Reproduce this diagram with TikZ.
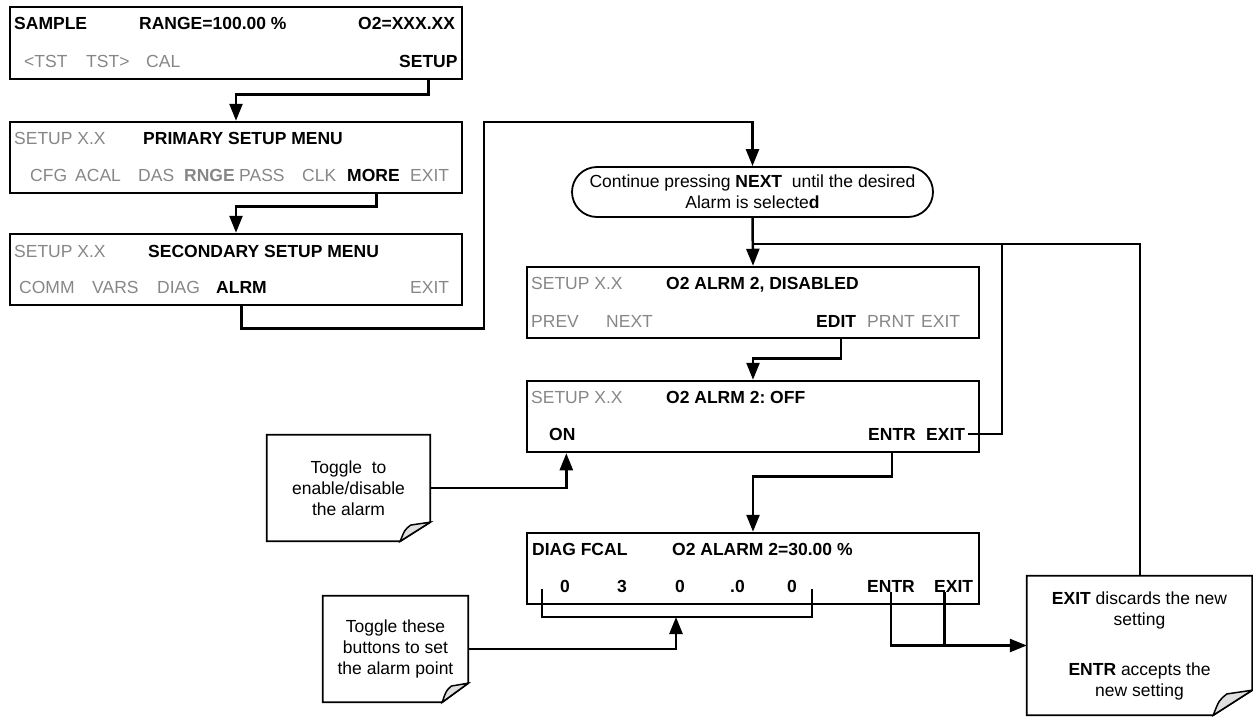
\documentclass[tikz,border=0pt]{standalone}
\usepackage{fontspec}
\setmainfont{Liberation Sans}
\frenchspacing
\usetikzlibrary{arrows.meta,shapes.misc,calc}
\definecolor{lcdGray}{RGB}{135,135,135}

\tikzset{
  lcd/.style={draw,line width=2.5pt,minimum width=452pt,minimum height=71pt,inner sep=0pt},
  key/.style={inner sep=0pt,anchor=base west,font=\fontsize{17.5}{20}\selectfont},
  keyb/.style={key,font=\fontsize{17.5}{20}\selectfont\bfseries},
  keyoff/.style={key,text=lcdGray},
  keyoffb/.style={keyb,text=lcdGray},
  conn/.style={line width=2.5pt},
  thinconn/.style={line width=2pt},
  arr/.style={conn,-{Triangle[length=17pt,width=13pt]}},
  hint/.style={align=center,font=\fontsize{17.5}{21}\selectfont,inner sep=0pt},
}

% sticky note outline with a curled corner
\newcommand{\notebox}[3]{%
  \draw[line width=1.8pt] (#1.north west) -- (#1.north east)
    -- ($(#1.south east)+(0,-#3)$) -- ($(#1.south east)+(-#2,0)$)
    -- (#1.south west) -- cycle;
  \filldraw[fill=gray!25,line width=1.5pt] ($(#1.south east)+(-#2,0)$)
    .. controls ($(#1.south east)+(-#2*0.85,-#3*0.6)$) ..
    ($(#1.south east)+(-#2*0.65,-#3*0.85)$) -- ($(#1.south east)+(0,-#3)$) -- cycle;
}

\begin{document}
\begin{tikzpicture}[x=1pt,y=-1pt]
  \useasboundingbox (0,0) rectangle (1253,717);

  % display windows
  \node[lcd,minimum height=72pt] (sample) at (236,43) {};
  \node[lcd] (prim) at (236,157.5) {};
  \node[lcd] (second) at (236,269.5) {};
  \node[lcd] (disabled) at (753,302.5) {};
  \node[lcd] (offbox) at (753,416.5) {};
  \node[lcd] (diag) at (753,568.5) {};

  % SAMPLE
  \node[keyb] (sampleT) at (14,30) {SAMPLE};
  \node[keyb] (rangeT) at (139,30) {RANGE=100.00 \%};
  \node[keyb] (otwoT) at (358,30) {O2=XXX.XX};
  \node[keyoff] (tstL) at (24,67) {<TST};
  \node[keyoff] (tstR) at (86,67) {TST>};
  \node[keyoff] (calS) at (146,67) {CAL};
  \node[keyb] (setupS) at (399,67) {SETUP};

  % primary setup
  \node[keyoff] (setupP) at (14,144) {SETUP X.X};
  \node[keyb] (titleP) at (143,144) {PRIMARY SETUP MENU};
  \node[keyoff] (cfgP) at (30,181) {CFG};
  \node[keyoff] (acalP) at (75,181) {ACAL};
  \node[keyoff] (dasP) at (138,181) {DAS};
  \node[keyoffb] (rngeP) at (184,181) {RNGE};
  \node[keyoff] (passP) at (239,181) {PASS};
  \node[keyoff] (clkP) at (302,181) {CLK};
  \node[keyb] (moreP) at (347,181) {MORE};
  \node[keyoff] (exitP) at (410,181) {EXIT};

  % secondary setup
  \node[keyoff] (setupS2) at (14,257) {SETUP X.X};
  \node[keyb] (titleS) at (148,257) {SECONDARY SETUP MENU};
  \node[keyoff] (commS) at (19,293) {COMM};
  \node[keyoff] (varsS) at (92,293) {VARS};
  \node[keyoff] (diagS) at (157,293) {DIAG};
  \node[keyb] (alrmS) at (216,293) {ALRM};
  \node[keyoff] (exitS) at (410,293) {EXIT};

  % alarm, disabled
  \node[keyoff] (setupD) at (531,289) {SETUP X.X};
  \node[keyb] (titleD) at (666,289) {O2 ALRM 2, DISABLED};
  \node[keyoff] (prevD) at (531,327) {PREV};
  \node[keyoff] (nextD) at (606,327) {NEXT};
  \node[keyb] (editD) at (816,327) {EDIT};
  \node[keyoff] (prntD) at (867,327) {PRNT};
  \node[keyoff] (exitD) at (921,327) {EXIT};

  % alarm, off
  \node[keyoff] (setupO) at (531,403) {SETUP X.X};
  \node[keyb] (titleO) at (666,403) {O2 ALRM 2: OFF};
  \node[keyb] (onO) at (549,440) {ON};
  \node[keyb] (entrO) at (868,440) {ENTR};
  \node[keyb] (exitO) at (926,440) {EXIT};

  % alarm value
  \node[keyb] (diagF) at (532,555) {DIAG FCAL};
  \node[keyb] (titleF) at (672,555) {O2 ALARM 2=30.00 \%};
  \node[keyb] (digA) at (560,592) {0};
  \node[keyb] (digB) at (617,592) {3};
  \node[keyb] (digC) at (675,592) {0};
  \node[keyb] (digD) at (730,592) {.0};
  \node[keyb] (digE) at (787,592) {0};
  \node[keyb] (entrF) at (867,592) {ENTR};
  \node[keyb] (exitF) at (934,592) {EXIT};

  % hints
  \node[rounded rectangle,draw,line width=1.8pt,minimum width=361pt,
        minimum height=50pt,hint] (nexthint) at (752.5,192)
    {Continue pressing \textbf{NEXT}\ \ until the desired\\Alarm is selecte\textbf{d}};
  \node[hint,minimum width=163pt,minimum height=106pt] (note1) at (348.5,488)
    {Toggle\ \ to\\enable/disable\\the alarm};
  \node[hint,minimum width=145pt,minimum height=106pt] (note2) at (395.5,649)
    {Toggle these\\buttons to set\\the alarm point};
  \node[hint,minimum width=225pt,minimum height=139pt] (note3) at (1139.5,645.5)
    {\textbf{EXIT} discards the new\\setting\\[29pt]\textbf{ENTR} accepts the\\new setting};
  \notebox{note1}{30}{19}
  \notebox{note2}{26}{19}
  \notebox{note3}{39}{25}

  \coordinate (loopA) at (484,122);
  \coordinate (jn) at (753,244);
  \coordinate (jr) at (1002,244);
  \coordinate (brL) at (542,589);
  \coordinate (brR) at (812,589);
  \coordinate (brM) at (676,617);

  % connectors
  \draw[arr] (setupS.south |- sample.south) -- ++(0,14) -| (prim.north);
  \draw[arr] ([xshift=3pt]moreP.south |- prim.south) -- ++(0,12) -| (second.north);
  \draw[arr] (alrmS.south |- second.south) -- ++(0,22) -| (loopA) -| (nexthint.north);
  \draw[arr] (nexthint.south) -- (disabled.north);
  \draw[thinconn] (jn) -- (note3.north |- jn) -- (note3.north);
  \draw[thinconn] ([xshift=3pt]exitO.east) -| (jr);
  \draw[arr] ([xshift=5pt]editD.south |- disabled.south) -- ++(0,19) -| (offbox.north);
  \draw[arr] (note1.east) -| ([xshift=4pt]onO.south |- offbox.south);
  \draw[arr] (entrO.south |- offbox.south) -- ++(0,23) -| (diag.north);
  \draw[conn] (brL) |- (brM) -| (brR);
  \draw[arr] (note2.east) -| (brM);
  \draw[arr] (entrF.south) |- (note3.west);
  \draw[conn] ([xshift=-9pt]exitF.south) -- ([xshift=-9pt]exitF.south |- note3.west);
\end{tikzpicture}
\end{document}
